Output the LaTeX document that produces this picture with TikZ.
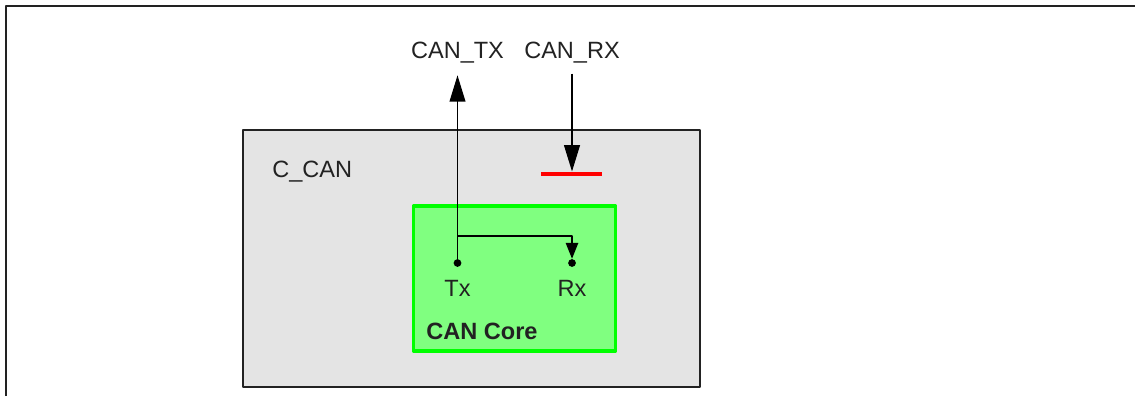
\documentclass[tikz,border=0pt]{standalone}
\usepackage{fontspec}
\setmainfont{Liberation Sans}
\usetikzlibrary{arrows.meta}
\definecolor{boxgray}{HTML}{E4E4E4}
\definecolor{coregreen}{HTML}{80FF80}
\definecolor{edgegreen}{HTML}{00FF00}
\definecolor{ink}{HTML}{222222}
\begin{document}
\begin{tikzpicture}[x=0.02cm, y=-0.02cm, font=\fontsize{13.4}{16}\selectfont, line join=round, >={Triangle[length=15pt,width=9pt]},
	blk/.style={draw=ink, line width=1.4pt, fill=boxgray, minimum width=9.14cm, minimum height=5.14cm, inner sep=0pt},
	corebox/.style={draw=edgegreen, line width=2.2pt, fill=coregreen, minimum width=4.04cm, minimum height=2.9cm, inner sep=0pt},
	pin/.style={circle, fill=black, inner sep=0pt, minimum size=4.4pt},
	lbl/.style={anchor=base, inner sep=0pt, text=ink},
	wire/.style={line width=0.85pt}]
		\useasboundingbox (0,0) rectangle (1135,396);
		\draw[ink, line width=1.2pt]	(6,396)--(6,6)--(1135,6);
		% blocks
		\node[blk] (ccan) at (471.5,258.5) {};
		\node[lbl, anchor=base west] (ccanlbl) at (272,177) {C\_CAN};
		\node[corebox] (core) at (514.5,278.5) {};
		\node[lbl, anchor=base west] (corelbl) at (426,339) {\textbf{CAN Core}};
		% pins
		\node[pin] (tx) at (457.5,263) {};
		\node[pin] (rx) at (572,263) {};
		\node[lbl] (txlbl) at (457.5,296) {Tx};
		\node[lbl] (rxlbl) at (572,296) {Rx};
		\node[lbl] (cantx) at (457.5,58) {CAN\_TX};
		\node[lbl] (canrx) at (572,58) {CAN\_RX};
		\coordinate (bar) at (572,171.5);
		\coordinate (split) at (457.5,236);
		\draw[red, line width=2.8pt] (541,174)--(602,174);
		% connectors
		\draw[wire,->,shorten >=7pt] (tx.center)--(cantx.south);
		\draw[wire,->,shorten <=6pt] (canrx.south)--(bar);
		\draw[wire,->,>={Triangle[length=9pt,width=7pt]}] (split)-|(rx.north);
	\end{tikzpicture}
\end{document}
